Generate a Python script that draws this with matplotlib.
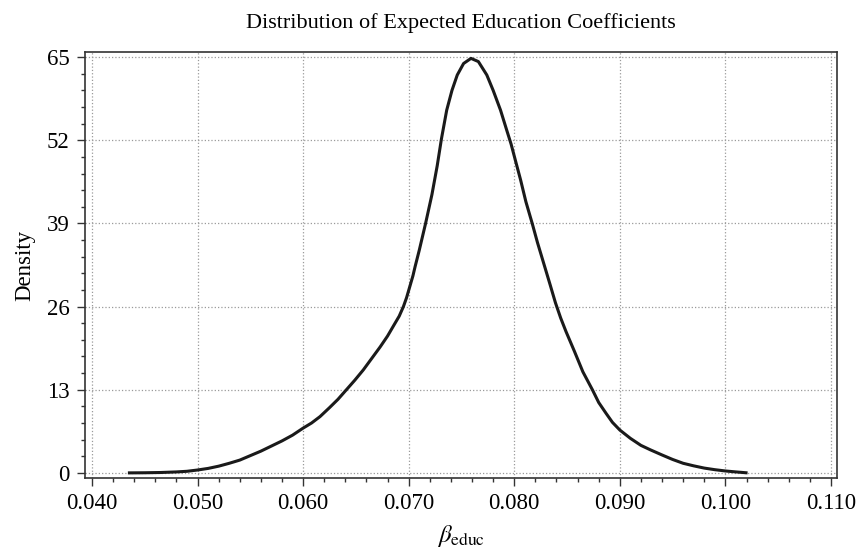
import matplotlib.pyplot as plt
from matplotlib.ticker import MultipleLocator, FormatStrFormatter

plt.rcParams['font.family'] = ['Liberation Serif', 'DejaVu Serif']
plt.rcParams['mathtext.fontset'] = 'stix'

# density of the education coefficient
beta_educ = [0.0434, 0.0450, 0.0465, 0.0480, 0.0490, 0.0500, 0.0510, 0.0520,
             0.0530, 0.0540, 0.0550, 0.0560, 0.0570, 0.0580, 0.0590, 0.0600,
             0.0608, 0.0616, 0.0625, 0.0633, 0.0641, 0.0649, 0.0657, 0.0665,
             0.0673, 0.0680, 0.0686, 0.0691, 0.0695, 0.0698, 0.0701, 0.0704,
             0.0706, 0.0710, 0.0716, 0.0722, 0.0727, 0.0731, 0.0736, 0.0741,
             0.0746, 0.0752, 0.0759, 0.0766, 0.0774, 0.0780, 0.0787, 0.0793,
             0.0797, 0.0801, 0.0806, 0.0811, 0.0817, 0.0822, 0.0828, 0.0834,
             0.0839, 0.0844, 0.0849, 0.0857, 0.0865, 0.0874, 0.0880, 0.0887,
             0.0893, 0.0900, 0.0910, 0.0920, 0.0929, 0.0940, 0.0950, 0.0960,
             0.0970, 0.0980, 0.0990, 0.1000, 0.1010, 0.1021]
density = [0.0, 0.02, 0.06, 0.15, 0.25, 0.45, 0.7, 1.05,
           1.5, 2.0, 2.7, 3.4, 4.2, 5.0, 5.9, 7.0,
           7.8, 8.8, 10.2, 11.5, 13.0, 14.5, 16.1, 17.9,
           19.7, 21.4, 23.1, 24.5, 26.0, 27.4, 29.1, 30.8,
           32.2, 34.8, 39.0, 43.5, 48.0, 52.2, 56.7, 59.8,
           62.2, 64.0, 64.8, 64.3, 62.2, 59.8, 56.7, 53.5,
           51.4, 48.9, 45.8, 42.4, 39.0, 36.0, 32.7, 29.4,
           26.6, 24.2, 22.1, 19.0, 15.8, 13.0, 11.0, 9.3,
           7.9, 6.7, 5.4, 4.3, 3.6, 2.8, 2.1, 1.5,
           1.1, 0.75, 0.5, 0.3, 0.15, 0.0]

x_ticks = [0.040, 0.050, 0.060, 0.070, 0.080, 0.090, 0.100, 0.110]
y_ticks = [0, 13, 26, 39, 52, 65]

fig = plt.figure(figsize=(8.58, 5.5), dpi=100)
ax = fig.add_axes([0.0991, 0.1309, 0.8764, 0.7746])

ax.plot(beta_educ, density, color='#1a1a1a', lw=2.2,
        solid_joinstyle='round', solid_capstyle='butt')

ax.set_xlim(0.03934, 0.11057)
ax.set_ylim(-0.8, 65.8)
ax.set_xticks(x_ticks)
ax.set_yticks(y_ticks)
ax.xaxis.set_major_formatter(FormatStrFormatter('%.3f'))
ax.xaxis.set_minor_locator(MultipleLocator(0.002))
ax.yaxis.set_minor_locator(MultipleLocator(2.6))

ax.grid(True, which='major', color='#9a9a9a', ls=':', lw=0.9)
ax.tick_params(which='major', length=6, width=1.0, color='#333333',
               labelsize=16.5, pad=5)
ax.tick_params(which='minor', length=3, width=1.0, color='#333333')
ax.tick_params(which='both', top=False, right=False)
for s in ax.spines.values():
    s.set_color('#333333')
    s.set_linewidth(1.2)

ax.set_title('Distribution of Expected Education Coefficients',
             fontsize=16, pad=17)
ax.set_ylabel('Density', fontsize=16.5, labelpad=8)
ax.set_xlabel(r'$\beta_{\mathrm{educ}}$', fontsize=18, labelpad=6)

fig.savefig('out.png', dpi=100)
